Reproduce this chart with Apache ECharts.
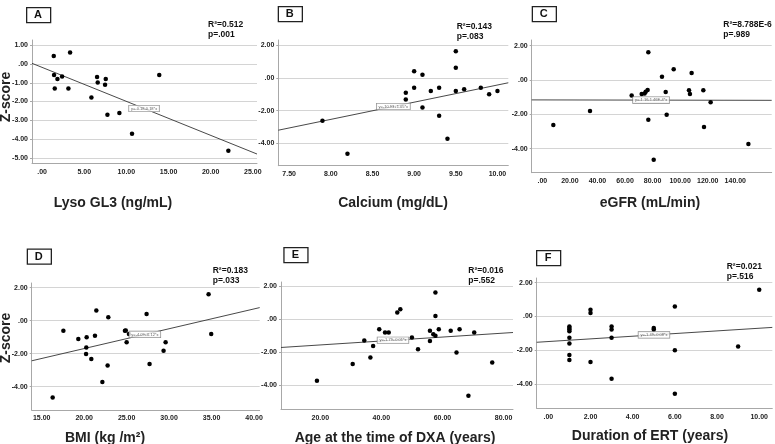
<!DOCTYPE html>
<html lang="en">
<head>
<meta charset="UTF-8">
<title>Z-score scatter</title>
<script src="https://cdn.jsdelivr.net/npm/echarts@6/dist/echarts.min.js"></script>
<style>
  body { margin: 0; background: #fff; }
  #main { width: 775px; height: 444px; }
</style>
</head>
<body>
<div id="main"></div>
<script type="text/javascript">
// ---- data ----
// A: Lyso GL3
var aX = [1.38, 3.32, 1.42, 1.82, 2.37, 1.5, 3.12, 6.52, 6.6, 7.55, 7.47, 5.85, 7.75, 9.17, 10.67, 13.9, 22.1];
var aY = [0.43, 0.62, -0.59, -0.80, -0.67, -1.30, -1.30, -0.69, -0.99, -0.80, -1.10, -1.79, -2.70, -2.61, -3.71, -0.59, -4.62];
// B: Calcium
var bX = [7.9, 8.2, 8.9, 8.9, 9.0, 9.0, 9.1, 9.1, 9.2, 9.3, 9.3, 9.4, 9.5, 9.5, 9.5, 9.6, 9.8, 9.9, 10.0];
var bY = [-2.61, -4.63, -0.90, -1.31, 0.41, -0.59, 0.20, -1.80, -0.80, -0.59, -2.31, -3.71, 1.63, 0.63, -0.80, -0.69, -0.59, -1.0, -0.80];
// C: eGFR
var cX = [8.0, 34.6, 64.8, 72.1, 74.2, 75.0, 76.4, 76.9, 76.9, 80.8, 86.8, 89.5, 90.2, 95.3, 106.4, 107.1, 108.3, 116.8, 117.3, 122.1, 149.5];
var cY = [-2.62, -1.81, -0.91, -0.82, -0.78, -0.68, -0.58, 1.61, -2.31, -4.64, 0.19, -0.70, -2.02, 0.62, -0.60, -0.82, 0.41, -0.60, -2.74, -1.30, -3.73];
// D: BMI
var dX = [16.29, 17.55, 19.31, 20.29, 20.25, 20.22, 20.84, 21.27, 21.43, 22.14, 22.76, 22.84, 24.8, 24.9, 25.0, 25.27, 27.35, 27.7, 29.35, 29.59, 34.65, 34.96];
var dY = [-4.65, -0.61, -1.11, -1.01, -1.62, -2.02, -2.32, -0.91, 0.61, -3.72, -2.71, 0.20, -0.61, -0.6, -1.31, -0.81, 0.40, -2.63, -1.82, -1.31, 1.60, -0.81];
// E: Age at DXA
var eX = [18.9, 30.6, 34.4, 36.4, 37.3, 39.3, 41.2, 42.4, 45.2, 46.2, 50.0, 52.0, 55.9, 55.9, 57.0, 57.7, 57.7, 57.7, 58.8, 62.7, 64.6, 65.6, 68.5, 70.4, 76.3];
var eY = [-3.71, -2.71, -1.29, -2.31, -1.61, -0.60, -0.80, -0.80, 0.40, 0.60, -1.10, -1.81, -0.70, -1.31, -0.90, 1.61, 0.20, -1.00, -0.60, -0.70, -2.01, -0.60, -4.62, -0.80, -2.61];
// F: Duration of ERT
var fX = [1, 1, 1, 1, 1, 1, 1, 1, 2, 2, 2, 3, 3, 3, 3, 5, 5, 6, 6, 6, 9, 10];
var fY = [-0.59, -0.69, -0.78, -0.88, -1.27, -1.61, -2.29, -2.59, 0.39, 0.20, -2.71, -0.59, -0.78, -1.27, -3.69, -0.69, -0.78, 0.59, -2.0, -4.59, -1.78, 1.59];

var letters = ['A', 'B', 'C', 'D', 'E', 'F'];
var xTitles = ['Lyso GL3 (ng/mL)', 'Calcium (mg/dL)', 'eGFR (mL/min)', 'BMI (kg /m²)', 'Age at the time of DXA (years)', 'Duration of ERT (years)'];
var r2Text = ['R²=0.512', 'R²=0.143', 'R²=8.788E-6', 'R²=0.183', 'R²=0.016', 'R²=0.021'];
var pText = ['p=.001', 'p=.083', 'p=.989', 'p=.033', 'p=.552', 'p=.516'];
var eqText = ['y=-0.18-0.18*x', 'y=-10.93+1.05*x', 'y=-1.16-1.46E-4*x', 'y=-4.09+0.12*x', 'y=-1.79+0.01*x', 'y=-1.49+0.08*x'];
// fit line: intercept, slope
var fitA = [-0.18, -0.181];
var fitB = [-10.93, 1.05];
var fitC = [-1.16, -0.000146];
var fitD = [-4.09, 0.12];
var fitE = [-1.79, 0.0119];
var fitF = [-1.49, 0.079];
// where the equation box sits along x
var eqX = [12.1, 8.75, 78.9, 27.15, 43.8, 5.01];

var xTicksA = [0, 5, 10, 15, 20, 25];
var xTicksB = [7.5, 8, 8.5, 9, 9.5, 10];
var xTicksC = [0, 20, 40, 60, 80, 100, 120, 140];
var xTicksD = [15, 20, 25, 30, 35, 40];
var xTicksE = [20, 40, 60, 80];
var xTicksF = [0, 2, 4, 6, 8, 10];
var yTicksA = [1, 0, -1, -2, -3, -4, -5];
var yTicks = [2, 0, -2, -4];

// ---- layout ----
var panels = [
  {x: aX, y: aY, fit: fitA, xt: xTicksA, yt: yTicksA, xr: [-1.2, 25.5], yr: [-5.29, 1.28], box: [32, 40, 225, 123.3],
   letter: [26, 7], r2: [208, 25], title: [113, 203], ztitle: [6, 97]},
  {x: bX, y: bY, fit: fitB, xt: xTicksB, yt: yTicks, xr: [7.37, 10.13], yr: [-5.36, 2.32], box: [278.3, 40, 230, 125.7],
   letter: [277.7, 6], r2: [456.7, 27], title: [393, 203]},
  {x: cX, y: cY, fit: fitC, xt: xTicksC, yt: yTicks, xr: [-7.7, 166.4], yr: [-5.4, 2.33], box: [531.7, 40, 240, 132.7],
   letter: [531.7, 6], r2: [723.3, 25], title: [650, 203]},
  {x: dX, y: dY, fit: fitD, xt: xTicksD, yt: yTicks, xr: [13.82, 40.67], yr: [-5.41, 2.28], box: [31.7, 283, 228, 127],
   letter: [26.7, 248.5], r2: [212.7, 270.7], title: [105, 438], ztitle: [6, 338]},
  {x: eX, y: eY, fit: fitE, xt: xTicksE, yt: yTicks, xr: [7.13, 83.1], yr: [-5.44, 2.25], box: [281, 282, 232, 127.3],
   letter: [283.3, 247], r2: [468.3, 270.7], title: [395, 438]},
  {x: fX, y: fY, fit: fitF, xt: xTicksF, yt: yTicks, xr: [-0.55, 10.62], yr: [-5.45, 2.28], box: [536.7, 278, 235.6, 130.3],
   letter: [536, 250], r2: [726.7, 266.7], title: [650, 436]}
];

function fmt(v) {
  return v.toFixed(2).replace(/^0\./, '.').replace(/^-0\./, '-.');
}

var FONT = 'Liberation Sans, Arial, sans-serif';
var grids = [], xAxes = [], yAxes = [], series = [], graphics = [];

panels.forEach(function (p, i) {
  grids.push({left: p.box[0], top: p.box[1], width: p.box[2], height: p.box[3]});
  xAxes.push({
    gridIndex: i, type: 'value', min: p.xr[0], max: p.xr[1],
    axisLine: {show: true, onZero: false, lineStyle: {color: '#a8a8a8', width: 1}},
    axisTick: {show: false, customValues: p.xt},
    axisLabel: {customValues: p.xt, formatter: fmt, fontSize: 7, fontWeight: 'bold', color: '#222', fontFamily: FONT, margin: 5},
    splitLine: {show: false}
  });
  yAxes.push({
    gridIndex: i, type: 'value', min: p.yr[0], max: p.yr[1],
    axisLine: {show: true, onZero: false, lineStyle: {color: '#a8a8a8', width: 1}},
    axisTick: {show: true, length: 2, customValues: p.yt, lineStyle: {color: '#a8a8a8'}},
    axisLabel: {customValues: p.yt, formatter: fmt, fontSize: 7, fontWeight: 'bold', color: '#222', fontFamily: FONT, margin: 4},
    splitLine: {show: true, lineStyle: {color: '#d4d4d4', width: 1}}
  });
  var pts = p.x.map(function (v, k) { return [v, p.y[k]]; });
  series.push({
    type: 'scatter', xAxisIndex: i, yAxisIndex: i, data: pts,
    symbolSize: 4.5, itemStyle: {color: '#000', opacity: 1}, silent: true, z: 4
  });
  var a = p.fit[0], b = p.fit[1];
  series.push({
    type: 'line', xAxisIndex: i, yAxisIndex: i, symbol: 'none', silent: true, z: 3,
    data: [[p.xr[0], a + b * p.xr[0]], [p.xr[1], a + b * p.xr[1]]],
    lineStyle: {color: '#333', width: 0.9}
  });
  series.push({
    type: 'scatter', xAxisIndex: i, yAxisIndex: i, symbolSize: 1, z: 5, silent: true,
    itemStyle: {color: 'rgba(0,0,0,0)'},
    data: [[eqX[i], a + b * eqX[i]]],
    label: {show: true, position: 'inside', formatter: eqText[i], fontSize: 4, color: '#333', fontFamily: FONT,
      backgroundColor: '#fff', borderColor: '#666', borderWidth: 0.6, padding: [1, 2]},
    labelLayout: {hideOverlap: false}
  });

  // panel letter box
  graphics.push({type: 'rect', left: p.letter[0], top: p.letter[1], shape: {width: 24, height: 15},
    style: {fill: '#fff', stroke: '#222', lineWidth: 1.3}});
  graphics.push({type: 'text', x: p.letter[0] + 12, y: p.letter[1] + 8,
    style: {text: letters[i], font: 'bold 11px ' + FONT, fill: '#111', textAlign: 'center', textVerticalAlign: 'middle'}});
  // R2 and p
  graphics.push({type: 'text', x: p.r2[0], y: p.r2[1],
    style: {text: r2Text[i], font: 'bold 8.5px ' + FONT, fill: '#111', textAlign: 'left', textVerticalAlign: 'middle'}});
  graphics.push({type: 'text', x: p.r2[0], y: p.r2[1] + 10,
    style: {text: pText[i], font: 'bold 8.5px ' + FONT, fill: '#111', textAlign: 'left', textVerticalAlign: 'middle'}});
  // x title
  graphics.push({type: 'text', x: p.title[0], y: p.title[1],
    style: {text: xTitles[i], font: 'bold 14px ' + FONT, fill: '#222', textAlign: 'center', textVerticalAlign: 'middle'}});
  if (p.ztitle) {
    graphics.push({type: 'text', x: p.ztitle[0], y: p.ztitle[1], rotation: Math.PI / 2,
      style: {text: 'Z-score', font: 'bold 14px ' + FONT, fill: '#222', textAlign: 'center', textVerticalAlign: 'middle'}});
  }
});

var myChart = echarts.init(document.getElementById('main'));
myChart.setOption({
  animation: false,
  backgroundColor: '#fff',
  grid: grids,
  xAxis: xAxes,
  yAxis: yAxes,
  series: series,
  graphic: graphics
});
</script>
</body>
</html>
